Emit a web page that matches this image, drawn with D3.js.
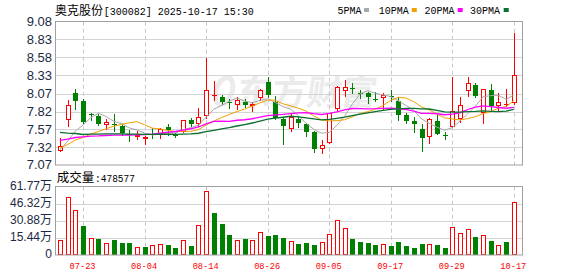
<!DOCTYPE html>
<html><head><meta charset="utf-8">
<script src="https://cdn.jsdelivr.net/npm/d3@7"></script>
<style>
html,body{margin:0;padding:0;background:#fff;}
svg{display:block;}
</style></head>
<body>
<svg id="c" width="578" height="276"></svg>
<script>
// ---------- data ----------
const dates = ["07-18","07-21","07-22","07-23","07-24","07-25","07-28","07-29","07-30","07-31","08-01","08-04","08-05","08-06","08-07","08-08","08-11","08-12","08-13","08-14","08-15","08-18","08-19","08-20","08-21","08-22","08-25","08-26","08-27","08-28","08-29","09-01","09-02","09-03","09-04","09-05","09-08","09-09","09-10","09-11","09-12","09-15","09-16","09-17","09-18","09-19","09-22","09-23","09-24","09-25","09-26","09-29","09-30","10-09","10-10","10-13","10-14","10-15","10-16","10-17"];
const open  = [7.27,7.70,8.075,7.972,7.79,7.758,7.625,7.64,7.622,7.505,7.464,7.435,7.50,7.50,7.60,7.497,7.538,7.70,7.64,7.763,8.045,8.018,7.95,7.916,7.958,7.902,8.005,8.234,7.958,7.71,7.58,7.71,7.64,7.533,7.299,7.383,7.851,8.112,8.15,8.085,8.075,7.995,8.005,8.04,7.972,7.767,7.687,7.58,7.458,7.682,7.49,7.608,7.715,8.112,8.187,7.795,8.122,7.902,7.911,7.935];
const high  = [7.445,7.98,8.136,7.996,7.80,7.79,7.71,7.783,7.64,7.56,7.55,7.47,7.585,7.59,7.64,7.52,7.705,7.727,7.867,8.566,8.253,8.052,8.0,8.019,7.99,7.958,8.14,8.309,8.038,7.75,7.795,7.75,7.655,7.54,7.42,7.80,8.18,8.262,8.225,8.122,8.10,8.098,8.075,8.122,8.03,7.795,7.75,7.645,7.725,7.767,7.533,8.309,8.019,8.304,8.22,8.141,8.206,8.075,8.141,8.916];
const low   = [7.26,7.61,7.86,7.664,7.70,7.63,7.57,7.548,7.49,7.41,7.43,7.36,7.445,7.445,7.49,7.46,7.53,7.61,7.61,7.735,7.982,7.925,7.865,7.855,7.878,7.832,7.982,8.028,7.72,7.365,7.552,7.598,7.477,7.257,7.243,7.374,7.832,8.038,8.075,8.005,7.944,7.972,7.86,7.972,7.701,7.664,7.533,7.271,7.383,7.50,7.43,7.60,7.673,8.042,8.019,7.664,7.841,7.841,7.897,7.93];
const close = [7.33,7.91,7.972,7.673,7.78,7.643,7.68,7.632,7.515,7.485,7.492,7.468,7.495,7.572,7.566,7.49,7.70,7.64,7.749,8.122,8.055,7.955,7.935,7.982,7.911,7.93,8.122,8.047,7.725,7.617,7.748,7.654,7.533,7.299,7.346,7.795,8.16,8.17,8.136,8.075,8.019,7.985,8.052,8.02,7.776,7.692,7.645,7.449,7.71,7.505,7.477,7.823,7.916,8.215,8.038,8.141,7.902,7.949,7.93,8.327];
// volume in 万
const volume = [13.6,52.2,40.4,26.2,15.1,14.5,10.6,13.6,10.9,10.9,7.2,7.2,8.7,9.6,9.0,6.3,13.3,8.1,27.1,57.9,38.3,28.0,18.1,13.6,14.5,13.6,20.5,17.2,18.1,15.4,12.7,10.0,10.9,9.0,11.5,18.7,31.4,24.4,14.5,11.8,10.9,9.0,9.6,8.1,11.8,8.1,6.3,10.0,9.6,9.0,6.3,25.3,19.6,23.5,16.3,17.8,12.7,8.7,11.8,47.86];
// closes of the 29 sessions before the window (estimated from where the MA lines start)
const priorCloses = [8.20,8.15,8.10,7.65,7.62,7.60,7.58,7.55,7.55,7.52,7.55,7.52,7.50,7.56,7.60,7.55,7.52,7.50,7.48,7.45,7.40,7.35,7.32,7.30,7.28,7.30,7.27,7.25,7.27];
const maPeriods = [5,10,20,30];
const maNames = ["5PMA","10PMA","20PMA","30PMA"];
const priceTicks = [7.07,7.32,7.57,7.82,8.07,8.33,8.58,8.83,9.08];
const volTicks = [0,15.44,30.88,46.32,61.77];
const dateTicks = ["07-23","08-04","08-14","08-26","09-05","09-17","09-29","10-17"];
const titleName = "奥克股份";
const titleRest = "[300082] 2025-10-17 15:30";
const volLabel = "成交量";
const volLast = ":478577";

// ---------- layout ----------
const L = 55, R = 522, PT = 21.67, PB = 165, VT = 186.67, VB = 255;
const RED = "#ff0000", GREEN = "#008000";
const maColors = ["#a8a8a8","#f0a000","#ff00ff","#0a6e30"];
const svg = d3.select("#c");

const x = d3.scalePoint().domain(dates).range([60, 513.8]);
const y = d3.scaleLinear().domain([7.07, 9.08]).range([PB, PT]);
const yv = d3.scaleLinear().domain([0, 61.77]).range([VB, VT]);
const px = d => Math.round(x(d)) + 0.5;
const crisp = v => Math.round(v) + 0.5;

// watermark
const wm = svg.append("g").attr("fill", "#ebebeb");
wm.append("text").attr("x", 236).attr("y", 105)
  .attr("font-family", "Noto Sans CJK SC").attr("font-size", 35).attr("font-weight", 700)
  .attr("transform", "skewX(-8) translate(14,0)")
  .text("东方财富");
wm.append("ellipse").attr("cx", 224).attr("cy", 91).attr("rx", 8).attr("ry", 14)
  .attr("fill", "none").attr("stroke", "#ebebeb").attr("stroke-width", 5)
  .attr("transform", "rotate(20,224,91)");

// horizontal grid
const grid = svg.append("g").attr("stroke", "#d4d4d4").attr("stroke-width", 1);
priceTicks.slice(1, -1).forEach(t => {
  grid.append("line").attr("x1", L).attr("x2", R).attr("y1", crisp(y(t))).attr("y2", crisp(y(t)));
});
volTicks.slice(1, -1).forEach(t => {
  grid.append("line").attr("x1", L).attr("x2", R).attr("y1", crisp(yv(t))).attr("y2", crisp(yv(t)));
});
// vertical dashed grid
dateTicks.forEach(d => {
  [[PT, PB], [VT, VB]].forEach(([a, b]) => {
    grid.append("line").attr("x1", px(d)).attr("x2", px(d)).attr("y1", a).attr("y2", b)
      .attr("stroke", "#c8c8c8").attr("stroke-dasharray", "4,3");
  });
});

// candles
const cg = svg.append("g");
dates.forEach((d, i) => {
  const up = close[i] >= open[i];
  const col = up ? RED : GREEN;
  const cx = px(d);
  cg.append("line").attr("x1", cx).attr("x2", cx)
    .attr("y1", Math.round(y(high[i]))).attr("y2", Math.round(y(low[i])) + 1)
    .attr("stroke", col).attr("stroke-width", 1);
  const top = Math.round(y(Math.max(open[i], close[i])));
  const bot = Math.round(y(Math.min(open[i], close[i])));
  const h = Math.max(bot - top, 1);
  if (up) {
    cg.append("rect").attr("x", cx - 2).attr("y", top + 0.5).attr("width", 4).attr("height", Math.max(h - 1, 0.01))
      .attr("fill", "#fff").attr("stroke", col).attr("stroke-width", 1);
  } else {
    cg.append("rect").attr("x", cx - 2.5).attr("y", top).attr("width", 5).attr("height", h)
      .attr("fill", col);
  }
});

// moving averages
const allClose = priorCloses.concat(close);
const off = priorCloses.length;
maPeriods.forEach((n, k) => {
  const vals = close.map((_, i) => d3.mean(allClose.slice(off + i - n + 1, off + i + 1)));
  svg.append("path").datum(vals)
    .attr("fill", "none").attr("stroke", maColors[k]).attr("stroke-width", k >= 2 ? 1.3 : 1)
    .attr("d", d3.line().x((v, i) => x(dates[i])).y(v => y(v)));
});

// volume bars
const vg = svg.append("g");
dates.forEach((d, i) => {
  const prev = i ? close[i - 1] : priorCloses[priorCloses.length - 1];
  const up = close[i] >= prev;
  const cx = px(d);
  const top = Math.round(yv(volume[i]));
  if (up) {
    vg.append("rect").attr("x", cx - 2).attr("y", top + 0.5).attr("width", 4).attr("height", VB - top - 1)
      .attr("fill", "#fff").attr("stroke", RED).attr("stroke-width", 1);
  } else {
    vg.append("rect").attr("x", cx - 2.5).attr("y", top).attr("width", 5).attr("height", VB - top)
      .attr("fill", GREEN);
  }
});

// panel borders
svg.append("rect").attr("x", L + 0.5).attr("y", 21.5).attr("width", R - L).attr("height", PB - 21.5)
  .attr("fill", "none").attr("stroke", "#a0a0a0");
svg.append("rect").attr("x", L + 0.5).attr("y", 186.5).attr("width", R - L).attr("height", VB - 186.5)
  .attr("fill", "none").attr("stroke", "#a0a0a0");

// y axes (labels)
const yAxis = svg.append("g").attr("transform", `translate(${L},0)`)
  .call(d3.axisLeft(y).tickValues(priceTicks).tickFormat(d3.format(".2f")).tickSize(0).tickPadding(3));
yAxis.select(".domain").remove();
yAxis.selectAll("text").attr("font-family", "Liberation Sans, Arial, sans-serif").attr("font-size", 13)
  .attr("fill", "#1b2a44").attr("dy", "0.3em");

const vAxis = svg.append("g").attr("transform", `translate(${L},-1.5)`)
  .call(d3.axisLeft(yv).tickValues(volTicks).tickFormat(d => d === 0 ? "0" : d3.format(".2f")(d) + "万").tickSize(0).tickPadding(3));
vAxis.select(".domain").remove();
vAxis.selectAll("text").attr("font-family", "Liberation Sans, Noto Sans CJK SC, sans-serif").attr("font-size", 12)
  .attr("fill", "#1b2a44").attr("dy", "0.32em");

// x axis
const xAxis = svg.append("g").attr("transform", `translate(-1,${VB})`)
  .call(d3.axisBottom(x).tickValues(dateTicks).tickSize(0).tickPadding(7));
xAxis.select(".domain").remove();
xAxis.selectAll("text").attr("font-family", "Liberation Mono, monospace").attr("font-size", 9.5)
  .attr("fill", RED).attr("textLength", 26).attr("lengthAdjust", "spacingAndGlyphs");

// title
svg.append("text").attr("x", 55).attr("y", 14.5).attr("font-family", "Noto Sans CJK SC").attr("font-size", 12)
  .attr("fill", "#000").text(titleName);
svg.append("text").attr("x", 103.7).attr("y", 14.5).attr("font-family", "Liberation Mono, monospace").attr("font-size", 11.5)
  .attr("fill", "#000").attr("textLength", 150).attr("lengthAdjust", "spacingAndGlyphs").text(titleRest);

// legend
const legX = [337.5, 378.7, 424.6, 470];
const legSq = [364, 411.8, 457.7, 503.7];
maNames.forEach((nm, k) => {
  svg.append("text").attr("x", legX[k]).attr("y", 14).attr("font-family", "Liberation Mono, monospace")
    .attr("font-size", 11).attr("fill", "#000").attr("textLength", nm.length * 6)
    .attr("lengthAdjust", "spacingAndGlyphs").text(nm);
  svg.append("rect").attr("x", legSq[k]).attr("y", 8).attr("width", 5).attr("height", 4).attr("fill", maColors[k]);
});

// volume label
svg.append("text").attr("x", 56.7).attr("y", 182).attr("font-family", "Noto Sans CJK SC").attr("font-size", 12.5)
  .attr("fill", "#000").text(volLabel);
svg.append("text").attr("x", 95).attr("y", 182).attr("font-family", "Liberation Mono, monospace").attr("font-size", 11)
  .attr("fill", "#000").attr("textLength", 40).attr("lengthAdjust", "spacingAndGlyphs").text(volLast);
</script>
</body></html>
